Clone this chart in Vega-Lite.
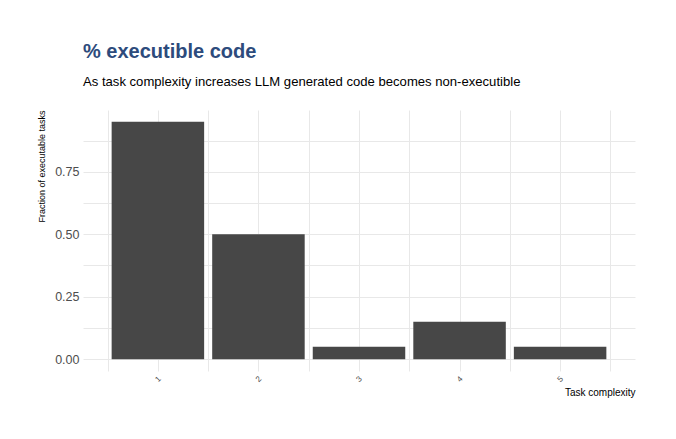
{
  "$schema": "https://vega.github.io/schema/vega-lite/v6.json",
  "width": 552,
  "height": 261,
  "autosize": {"type": "none"},
  "padding": {"left": 83, "top": 110, "right": 41, "bottom": 68},
  "background": "white",
  "title": {
    "text": "% executible code",
    "subtitle": "As task complexity increases LLM generated code becomes non-executible",
    "anchor": "start",
    "frame": "group",
    "font": "Liberation Sans",
    "fontSize": 20,
    "fontWeight": "bold",
    "color": "#2D4B7C",
    "subtitleFont": "Liberation Sans",
    "subtitleFontSize": 13.1,
    "subtitleColor": "#000000",
    "subtitlePadding": 14,
    "offset": 21
  },
  "config": {
    "view": {"stroke": null},
    "font": "Liberation Sans"
  },
  "data": {
    "values": [
      {"complexity": 1, "fraction": 0.95},
      {"complexity": 2, "fraction": 0.50},
      {"complexity": 3, "fraction": 0.05},
      {"complexity": 4, "fraction": 0.15},
      {"complexity": 5, "fraction": 0.05}
    ]
  },
  "mark": {"type": "bar", "color": "#474747", "width": 92.5},
  "encoding": {
    "x": {
      "field": "complexity",
      "type": "quantitative",
      "scale": {"domain": [0.305, 5.695], "nice": false, "zero": false},
      "axis": {
        "title": "Task complexity",
        "titleAnchor": "end",
        "titleFont": "Liberation Sans",
        "titleFontSize": 10,
        "titleFontWeight": "normal",
        "titleColor": "#000000",
        "titlePadding": 4,
        "values": [0.5, 1, 1.5, 2, 2.5, 3, 3.5, 4, 4.5, 5, 5.5],
        "labelExpr": "datum.value % 1 === 0 ? format(datum.value, 'd') : ''",
        "labelAngle": -45,
        "labelAlign": "center",
        "labelBaseline": "middle",
        "labelPadding": 8,
        "labelFontSize": 8,
        "labelColor": "#4D4D4D",
        "labelFont": "Liberation Sans",
        "ticks": false,
        "domain": false,
        "grid": true,
        "gridColor": "#E8E8E8",
        "gridWidth": 1
      }
    },
    "y": {
      "field": "fraction",
      "type": "quantitative",
      "scale": {"domain": [-0.0475, 0.9975], "nice": false, "zero": false},
      "axis": {
        "title": "Fraction of executable tasks",
        "titleAnchor": "end",
        "titleFont": "Liberation Sans",
        "titleFontSize": 9,
        "titleFontWeight": "normal",
        "titleColor": "#000000",
        "titlePadding": 8,
        "values": [0, 0.125, 0.25, 0.375, 0.5, 0.625, 0.75, 0.875],
        "labelExpr": "datum.value % 0.25 === 0 ? format(datum.value, '.2f') : ''",
        "labelFontSize": 12.5,
        "labelColor": "#4D4D4D",
        "labelFont": "Liberation Sans",
        "labelPadding": 4,
        "ticks": false,
        "domain": false,
        "grid": true,
        "gridColor": "#E8E8E8",
        "gridWidth": 1
      }
    }
  }
}
